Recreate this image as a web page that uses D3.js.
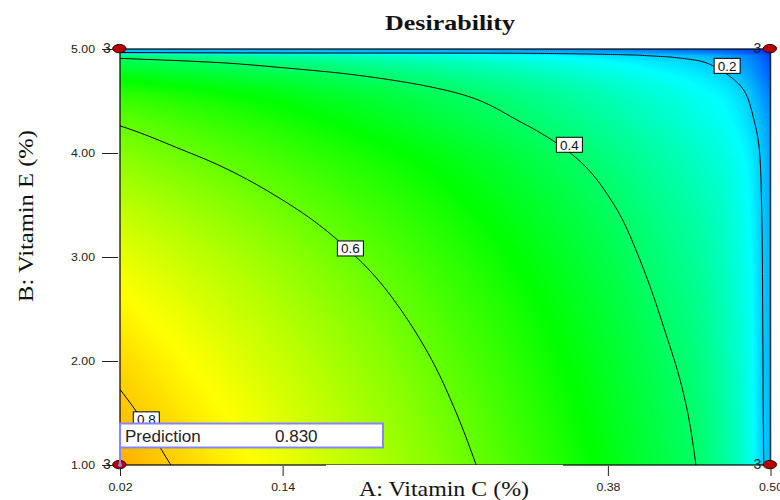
<!DOCTYPE html>
<html><head><meta charset="utf-8">
<script src="https://cdn.jsdelivr.net/npm/d3@7"></script>
<style>html,body{margin:0;padding:0;background:#fff;} svg{display:block;}</style>
</head><body>
<svg id="chart" width="780" height="500"></svg>
<script>
// ---------------- data ----------------
const vitaminC = [0.02, 0.06, 0.10, 0.14, 0.18, 0.22, 0.26, 0.30, 0.34, 0.38, 0.42, 0.45, 0.47, 0.485, 0.495, 0.50];
const vitaminE = [1.00, 1.50, 2.00, 2.50, 3.00, 3.50, 4.00, 4.30, 4.60, 4.80, 4.90, 4.94, 4.96, 5.00];
// desirability[row for vitaminE][column for vitaminC]
const desirability = [
  [0.830, 0.798, 0.766, 0.733, 0.698, 0.662, 0.623, 0.582, 0.536, 0.487, 0.433, 0.390, 0.335, 0.270, 0.200, 0.182],
  [0.810, 0.779, 0.748, 0.715, 0.681, 0.646, 0.608, 0.568, 0.523, 0.475, 0.423, 0.381, 0.327, 0.265, 0.198, 0.180],
  [0.787, 0.757, 0.726, 0.695, 0.662, 0.628, 0.591, 0.552, 0.508, 0.462, 0.411, 0.370, 0.318, 0.262, 0.197, 0.178],
  [0.760, 0.731, 0.701, 0.671, 0.639, 0.606, 0.570, 0.533, 0.491, 0.446, 0.396, 0.357, 0.310, 0.258, 0.196, 0.176],
  [0.727, 0.699, 0.671, 0.642, 0.611, 0.580, 0.546, 0.510, 0.470, 0.427, 0.379, 0.342, 0.300, 0.252, 0.195, 0.174],
  [0.684, 0.658, 0.631, 0.604, 0.576, 0.547, 0.516, 0.482, 0.445, 0.405, 0.360, 0.324, 0.290, 0.245, 0.192, 0.170],
  [0.631, 0.607, 0.583, 0.558, 0.532, 0.506, 0.477, 0.446, 0.411, 0.374, 0.332, 0.299, 0.270, 0.232, 0.185, 0.160],
  [0.594, 0.570, 0.546, 0.522, 0.496, 0.470, 0.441, 0.412, 0.380, 0.345, 0.307, 0.276, 0.250, 0.212, 0.170, 0.145],
  [0.534, 0.513, 0.493, 0.472, 0.449, 0.426, 0.401, 0.374, 0.345, 0.313, 0.279, 0.251, 0.225, 0.185, 0.140, 0.115],
  [0.462, 0.444, 0.426, 0.408, 0.389, 0.368, 0.347, 0.324, 0.298, 0.271, 0.241, 0.217, 0.187, 0.150, 0.110, 0.085],
  [0.408, 0.392, 0.377, 0.360, 0.343, 0.325, 0.306, 0.286, 0.263, 0.239, 0.213, 0.192, 0.165, 0.133, 0.098, 0.070],
  [0.367, 0.353, 0.339, 0.324, 0.309, 0.293, 0.275, 0.257, 0.237, 0.215, 0.191, 0.172, 0.148, 0.119, 0.088, 0.060],
  [0.205, 0.204, 0.203, 0.202, 0.201, 0.200, 0.199, 0.198, 0.190, 0.175, 0.155, 0.135, 0.115, 0.090, 0.065, 0.050],
  [0.180, 0.178, 0.176, 0.174, 0.171, 0.167, 0.161, 0.153, 0.142, 0.128, 0.112, 0.099, 0.085, 0.068, 0.050, 0.035]
];
const contourLevels = [0.2, 0.4, 0.6, 0.8];
const contourLabelC = [0.468, 0.3516, 0.190, 0.0394];
const contourLabelE = [4.838, 4.079, 3.082, 1.439];
const designC = [0.02, 0.50, 0.02, 0.50];
const designE = [5.00, 5.00, 1.00, 1.00];
const designReps = [3, 3, 3, 3];
const predictionC = 0.02, predictionE = 1.00, predictionValue = 0.830;
const xTicks = [0.02, 0.14, 0.38, 0.50];
const yTicks = [1, 2, 3, 4, 5];
const titleText = "Desirability";
const xTitle = "A: Vitamin C (%)";
const yTitle = "B: Vitamin E (%)";

// ---------------- setup ----------------
const svg = d3.select("#chart");
svg.append("rect").attr("width", 780).attr("height", 500).attr("fill", "#fff");
const x = d3.scaleLinear().domain([0.02, 0.50]).range([120, 770.5]);
const y = d3.scaleLinear().domain([1, 5]).range([465, 49]);
const color = d3.scaleLinear().domain([0, 0.25, 0.5, 0.75, 1])
  .range(["#0000ff", "#00ffff", "#00ff00", "#ffff00", "#ff0000"]);

// monotone cubic (Steffen) through the read grid values, used only to render a smooth surface
function monotone(xs, ys) {
  const n = xs.length, h = [], s = [], m = new Array(n);
  for (let i = 0; i < n - 1; i++) { h[i] = xs[i + 1] - xs[i]; s[i] = (ys[i + 1] - ys[i]) / h[i]; }
  m[0] = s[0]; m[n - 1] = s[n - 2];
  for (let i = 1; i < n - 1; i++) {
    const p = (s[i - 1] * h[i] + s[i] * h[i - 1]) / (h[i - 1] + h[i]);
    m[i] = (Math.sign(s[i - 1]) + Math.sign(s[i])) * Math.min(Math.abs(s[i - 1]), Math.abs(s[i]), 0.5 * Math.abs(p));
  }
  return t => {
    t = Math.max(xs[0], Math.min(xs[n - 1], t));
    let k = d3.bisectRight(xs, t) - 1; k = Math.max(0, Math.min(n - 2, k));
    const u = (t - xs[k]) / h[k], u2 = u * u, u3 = u2 * u;
    return ys[k] * (2 * u3 - 3 * u2 + 1) + h[k] * m[k] * (u3 - 2 * u2 + u) +
           ys[k + 1] * (-2 * u3 + 3 * u2) + h[k] * m[k + 1] * (u3 - u2);
  };
}
const rowInterps = desirability.map(row => monotone(vitaminC, row));
function columnAt(a) { return monotone(vitaminE, rowInterps.map(f => f(a))); }

const X0 = x(0.02), Y0 = y(5), PW = x(0.5) - x(0.02), PH = y(1) - y(5);
svg.append("defs").append("clipPath").attr("id", "plotClip")
  .append("rect").attr("x", X0).attr("y", Y0).attr("width", PW).attr("height", PH);

// ---------------- colour field ----------------
const W = Math.ceil(PW), H = Math.ceil(PH);
const canvas = document.createElement("canvas"); canvas.width = W; canvas.height = H;
const ctx = canvas.getContext("2d");
const img = ctx.createImageData(W, H);
const lut = d3.range(1001).map(k => d3.rgb(color(k / 1000)));
for (let i = 0; i < W; i++) {
  const fB = columnAt(x.invert(X0 + i + 0.5));
  for (let j = 0; j < H; j++) {
    const v = fB(y.invert(Y0 + j + 0.5));
    const c = lut[Math.max(0, Math.min(1000, Math.round(v * 1000)))];
    const o = (j * W + i) * 4;
    img.data[o] = c.r; img.data[o + 1] = c.g; img.data[o + 2] = c.b; img.data[o + 3] = 255;
  }
}
ctx.putImageData(img, 0, 0);
svg.append("image").attr("clip-path", "url(#plotClip)")
  .attr("x", X0).attr("y", Y0).attr("width", W).attr("height", H)
  .attr("preserveAspectRatio", "none").attr("href", canvas.toDataURL());

// ---------------- contour lines ----------------
const NX = 326, NY = 209;
const fineA = d3.scaleLinear().domain([0, NX - 1]).range([0.02, 0.50]);
const fineB = d3.scaleLinear().domain([0, NY - 1]).range([1, 5]);
const fine = new Float64Array(NX * NY);
for (let i = 0; i < NX; i++) {
  const fB = columnAt(fineA(i));
  for (let j = 0; j < NY; j++) fine[j * NX + i] = fB(fineB(j));
}
function runsOf(ring) {
  let pts = ring.map(([c, r]) => [Math.max(0, Math.min(NX - 1, c - 0.5)), Math.max(0, Math.min(NY - 1, r - 0.5))]);
  if (pts.length > 1 && pts[0][0] === pts[pts.length - 1][0] && pts[0][1] === pts[pts.length - 1][1]) pts.pop();
  const n = pts.length;
  const onEdge = (p, q) => (p[0] === 0 && q[0] === 0) || (p[0] === NX - 1 && q[0] === NX - 1) ||
                           (p[1] === 0 && q[1] === 0) || (p[1] === NY - 1 && q[1] === NY - 1);
  let k0 = -1;
  for (let k = 0; k < n; k++) if (onEdge(pts[k], pts[(k + 1) % n])) { k0 = k; break; }
  if (k0 < 0) return [pts.concat([pts[0]])];
  const runs = []; let cur = [pts[(k0 + 1) % n]];
  for (let s = 1; s <= n; s++) {
    const a = pts[(k0 + s) % n], b = pts[(k0 + s + 1) % n];
    if (onEdge(a, b)) { if (cur.length > 1) runs.push(cur); cur = [b]; }
    else cur.push(b);
  }
  if (cur.length > 1) runs.push(cur);
  return runs;
}
const iso = d3.contours().size([NX, NY]).thresholds(contourLevels)(Array.from(fine));
const lineRuns = [];
iso.forEach(mp => mp.coordinates.forEach(poly => poly.forEach(ring => {
  runsOf(ring).forEach(run => lineRuns.push(run.map(([i, j]) => [x(fineA(i)), y(fineB(j))])));
})));
const lineGen = d3.line();
svg.append("g").attr("clip-path", "url(#plotClip)")
  .selectAll("path").data(lineRuns).join("path")
  .attr("d", lineGen).attr("fill", "none").attr("stroke", "#000").attr("stroke-width", 1);

// contour labels
const lab = svg.append("g").selectAll("g").data(contourLevels).join("g")
  .attr("transform", (d, i) => `translate(${x(contourLabelC[i])},${y(contourLabelE[i])})`);
lab.append("rect").attr("x", -13).attr("y", -7.5).attr("width", 26).attr("height", 15)
  .attr("fill", "#fff").attr("stroke", "#000").attr("stroke-width", 1);
lab.append("text").attr("text-anchor", "middle").attr("y", 5)
  .attr("font-family", "Liberation Sans, Arial, sans-serif").attr("font-size", 13.5).attr("fill", "#111")
  .text(d => d3.format(".1f")(d));

// plot border
svg.append("rect").attr("x", X0).attr("y", Y0).attr("width", PW).attr("height", PH)
  .attr("fill", "none").attr("stroke", "rgba(0,0,0,0.8)").attr("stroke-width", 1.5);

// ---------------- axes ----------------
const axisFont = "Liberation Sans, Arial, sans-serif";
const yAxis = d3.axisLeft(y).tickValues(yTicks).tickFormat(d3.format(".2f")).tickSize(16).tickSizeOuter(0).tickPadding(7);
svg.append("g").attr("transform", "translate(118,0)").call(yAxis)
  .call(g => g.select(".domain").remove())
  .call(g => g.selectAll("line").attr("stroke", "#222"))
  .call(g => g.selectAll("text").attr("font-family", axisFont).attr("font-size", 11).attr("fill", "#222")
    .attr("textLength", 24).attr("lengthAdjust", "spacingAndGlyphs"));
const xAxis = d3.axisBottom(x).tickValues(xTicks).tickFormat(d3.format(".2f")).tickSize(10).tickSizeOuter(0).tickPadding(7);
svg.append("g").attr("transform", "translate(0,466)").call(xAxis)
  .call(g => g.select(".domain").remove())
  .call(g => g.selectAll("line").attr("stroke", "#222"))
  .call(g => g.selectAll("text").attr("font-family", axisFont).attr("font-size", 11).attr("fill", "#222")
    .attr("textLength", 24).attr("lengthAdjust", "spacingAndGlyphs"));

// ---------------- design points ----------------
const dp = svg.append("g").selectAll("g").data(designReps).join("g")
  .attr("transform", (d, i) => `translate(${x(designC[i]) - 0.6},${y(designE[i]) - 0.4})`);
dp.append("text").attr("x", -8.5).attr("y", 4.5).attr("text-anchor", "end")
  .attr("font-family", axisFont).attr("font-size", 14).attr("fill", "#222").text(d => d);
dp.append("ellipse").attr("rx", 6.7).attr("ry", 4.2)
  .attr("fill", "#b40000").attr("stroke", "#3a0000").attr("stroke-width", 1);

// ---------------- titles ----------------
const serif = "Liberation Serif, Times New Roman, serif";
svg.append("text").attr("x", 450).attr("y", 30).attr("text-anchor", "middle")
  .attr("font-family", serif).attr("font-weight", "bold").attr("font-size", 21)
  .attr("textLength", 130).attr("lengthAdjust", "spacingAndGlyphs").attr("fill", "#111").text(titleText);
svg.append("rect").attr("x", 326).attr("y", 464.9).attr("width", 237).attr("height", 36).attr("fill", "#fff");
svg.append("text").attr("x", 444).attr("y", 496).attr("text-anchor", "middle")
  .attr("font-family", serif).attr("font-size", 22)
  .attr("textLength", 170).attr("lengthAdjust", "spacingAndGlyphs").attr("fill", "#111").text(xTitle);
svg.append("text").attr("transform", "translate(33,216) rotate(-90)").attr("text-anchor", "middle")
  .attr("font-family", serif).attr("font-size", 22)
  .attr("textLength", 172).attr("lengthAdjust", "spacingAndGlyphs").attr("fill", "#111").text(yTitle);

// ---------------- prediction flag ----------------
const px0 = x(predictionC), py0 = y(predictionE);
const pred = svg.append("g");
pred.append("line").attr("x1", px0).attr("x2", px0).attr("y1", py0 - 17.5).attr("y2", py0)
  .attr("stroke", "#8585ff").attr("stroke-width", 2);
pred.append("rect").attr("x", px0).attr("y", py0 - 41.5).attr("width", 263).attr("height", 24)
  .attr("fill", "#fff").attr("stroke", "#8585ff").attr("stroke-width", 2);
pred.append("text").attr("x", px0 + 5).attr("y", py0 - 23.5)
  .attr("font-family", axisFont).attr("font-size", 17).attr("fill", "#222").text("Prediction");
pred.append("text").attr("x", px0 + 155).attr("y", py0 - 23.5)
  .attr("font-family", axisFont).attr("font-size", 17).attr("fill", "#222").text(d3.format(".3f")(predictionValue));
pred.append("circle").attr("cx", px0).attr("cy", py0).attr("r", 2).attr("fill", "#8585ff");
</script>
</body></html>
